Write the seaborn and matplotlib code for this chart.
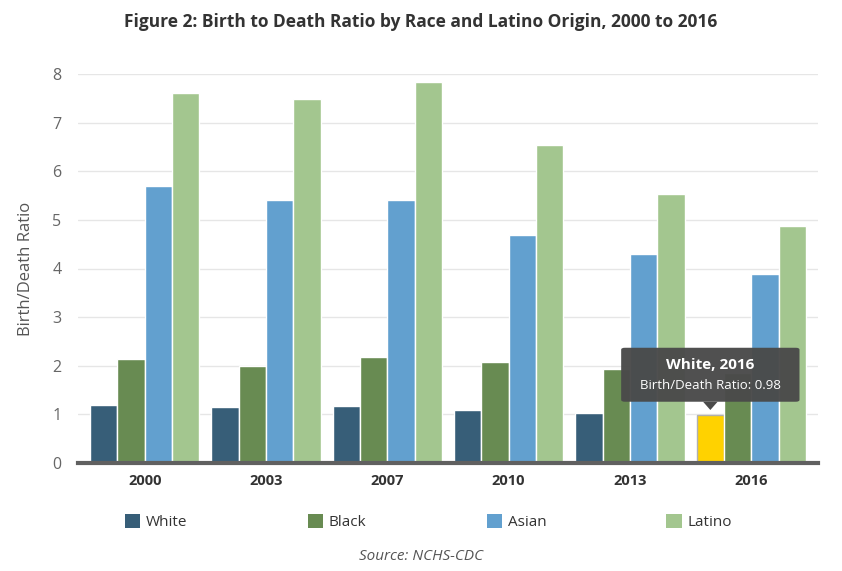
import matplotlib
matplotlib.use("Agg")
import matplotlib.pyplot as plt
import pandas as pd
import seaborn as sns
from matplotlib.patches import FancyBboxPatch, Polygon

# data
years = ["2000", "2003", "2007", "2010", "2013", "2016"]
groups = ["White", "Black", "Asian", "Latino"]
white = [1.20, 1.16, 1.18, 1.09, 1.03, 0.98]
black = [2.14, 2.00, 2.18, 2.08, 1.93, 1.85]
asian = [5.70, 5.41, 5.41, 4.69, 4.30, 3.88]
latino = [7.61, 7.49, 7.84, 6.54, 5.53, 4.88]
colors = ["#375e78", "#688b52", "#62a0cf", "#a3c68f"]

df = pd.DataFrame({
    "year": years * 4,
    "group": [g for g in groups for _ in years],
    "ratio": white + black + asian + latino,
})

sns.set_theme(style="white")
plt.rcParams["font.family"] = ["Open Sans", "DejaVu Sans"]

fig = plt.figure(figsize=(8.42, 5.71), dpi=100)
ax = fig.add_axes([78 / 842, 1 - 463 / 571, 740 / 842, 389 / 571])

sns.barplot(data=df, x="year", y="ratio", hue="group", order=years,
            hue_order=groups, palette=colors, width=0.9, saturation=1,
            edgecolor="white", linewidth=1, legend=False, ax=ax)

ax.set_xlim(-0.55, 5.55)
ax.set_ylim(0, 8)
ax.set_yticks(range(0, 9))
ax.grid(axis="y", color="#e6e6e6", linewidth=1)
ax.set_axisbelow(True)
for s in ["top", "right", "left"]:
    ax.spines[s].set_visible(False)
ax.spines["bottom"].set_color("#606060")
ax.spines["bottom"].set_linewidth(3)
ax.tick_params(axis="both", length=0)
ax.tick_params(axis="y", colors="#666666", labelsize=11.5, pad=12)
ax.tick_params(axis="x", colors="#333333", labelsize=10.5, pad=8)
for lbl in ax.get_xticklabels():
    lbl.set_fontweight("bold")
ax.set_xlabel("")
ax.set_ylabel("Birth/Death Ratio", fontsize=12, color="#555555", labelpad=13)

# highlighted bar (White, 2016)
hl = ax.containers[0][5]
hl.set_facecolor("#ffd200")
hl.set_edgecolor("#b0b0b0")

# tooltip
cx = hl.get_x() + hl.get_width() / 2
top = hl.get_height()
bw, by0, by1 = 1.47, 1.26, 2.37
ax.add_patch(FancyBboxPatch((cx - bw / 2, by0), bw, by1 - by0,
                            boxstyle="round,pad=0,rounding_size=0.03",
                            fc="#4a4a4a", ec="none", alpha=0.97,
                            mutation_aspect=8 / 6.1 * 740 / 389 / 1.9, zorder=5))
ax.add_patch(Polygon([(cx - 0.06, by0), (cx + 0.06, by0), (cx, top + 0.11)],
                     closed=True, fc="#4a4a4a", ec="none", zorder=5))
ax.text(cx, 2.02, f"{groups[0]}, {years[5]}", ha="center", va="center",
        color="white", fontsize=11, fontweight="bold", zorder=6)
ax.text(cx, 1.6, f"Birth/Death Ratio: {white[5]:.2f}", ha="center", va="center",
        color="white", fontsize=9.5, zorder=6)

fig.text(0.5, 1 - 22 / 571, "Figure 2: Birth to Death Ratio by Race and Latino Origin, 2000 to 2016",
         ha="center", va="center", fontsize=12.5, fontweight="bold", color="#333333")

handles = [plt.Rectangle((0, 0), 1, 1, fc=c, ec="none") for c in colors]
fig.legend(handles, groups, ncol=4, loc="center", bbox_to_anchor=(0.509, 1 - 522 / 571),
           frameon=False, handlelength=1.0, handleheight=1.0, handletextpad=0.4,
           columnspacing=7.85, fontsize=11, labelcolor="#333333")

fig.text(0.5, 1 - 557 / 571, "Source: NCHS-CDC", ha="center", va="center",
         fontsize=11, style="italic", color="#555555")

fig.savefig("out.png", dpi=100)
